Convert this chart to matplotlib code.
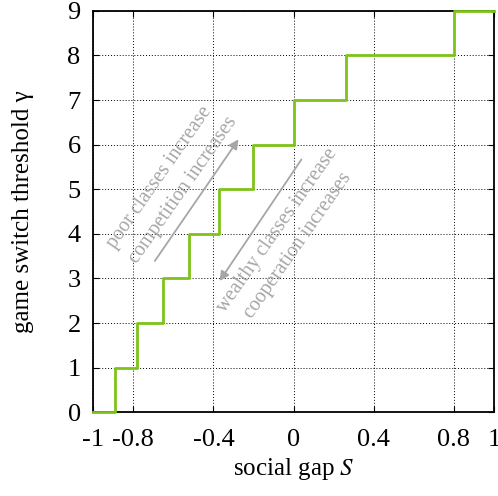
import numpy as np
import matplotlib
matplotlib.use("Agg")
import matplotlib.pyplot as plt

plt.rcParams["font.family"] = ["Liberation Serif", "DejaVu Serif"]
plt.rcParams["mathtext.fontset"] = "stix"

# switch points on the social gap axis where gamma jumps by one
switch_S = [-0.89, -0.78, -0.65, -0.52, -0.37, -0.20, 0.0, 0.26, 0.80]
gamma_levels = [0, 1, 2, 3, 4, 5, 6, 7, 8, 9]
x_ticks = [-1, -0.8, -0.4, 0, 0.4, 0.8, 1]
x_tick_labels = ["-1", "-0.8", "-0.4", "0", "0.4", "0.8", "1"]
y_ticks = list(range(10))

green = "#7dc31a"
grey = "#a6a6a6"

fig = plt.figure(figsize=(4.98, 4.96), dpi=100)
ax = fig.add_axes([0.187, 0.169, 0.805, 0.809])

# build the staircase
xs = [-1.0] + switch_S + [1.0]
ax.step(xs, gamma_levels + [gamma_levels[-1]], where="post", color=green, lw=2,
        zorder=3, clip_on=False)

ax.set_xlim(-1, 1)
ax.set_ylim(0, 9)
ax.set_xticks(x_ticks)
ax.set_xticklabels(x_tick_labels)
ax.set_yticks(y_ticks)
ax.tick_params(direction="in", top=True, right=True, length=4, width=0.8,
               labelsize=19, pad=9)
ax.tick_params(axis="x", pad=12)
for sp in ax.spines.values():
    sp.set_linewidth(1.3)

ax.grid(True, linestyle=(0, (1, 2)), color="black", lw=0.7)

ax.set_xlabel("social gap $S$", fontsize=18, labelpad=4)
ax.set_ylabel("game switch threshold γ", fontsize=18, labelpad=24)

# annotations
ax.annotate("", xy=(-0.267, 6.17), xytext=(-0.70, 3.34),
            arrowprops=dict(arrowstyle="-|>", color=grey, lw=1.3, mutation_scale=14))
ax.annotate("", xy=(-0.377, 2.89), xytext=(0.047, 5.72),
            arrowprops=dict(arrowstyle="-|>", color=grey, lw=1.3, mutation_scale=14))

rot = 55
fs = 14.5
ax.text(-0.67, 5.27, "poor classes increase", color=grey, fontsize=fs,
        rotation=rot, ha="center", va="center", rotation_mode="anchor")
ax.text(-0.55, 4.98, "competition increases", color=grey, fontsize=fs,
        rotation=rot, ha="center", va="center", rotation_mode="anchor")
ax.text(-0.082, 4.08, "wealthy classes increase", color=grey, fontsize=fs,
        rotation=rot, ha="center", va="center", rotation_mode="anchor")
ax.text(0.022, 3.74, "cooperation increases", color=grey, fontsize=fs,
        rotation=rot, ha="center", va="center", rotation_mode="anchor")

fig.savefig("out.png", dpi=100)
